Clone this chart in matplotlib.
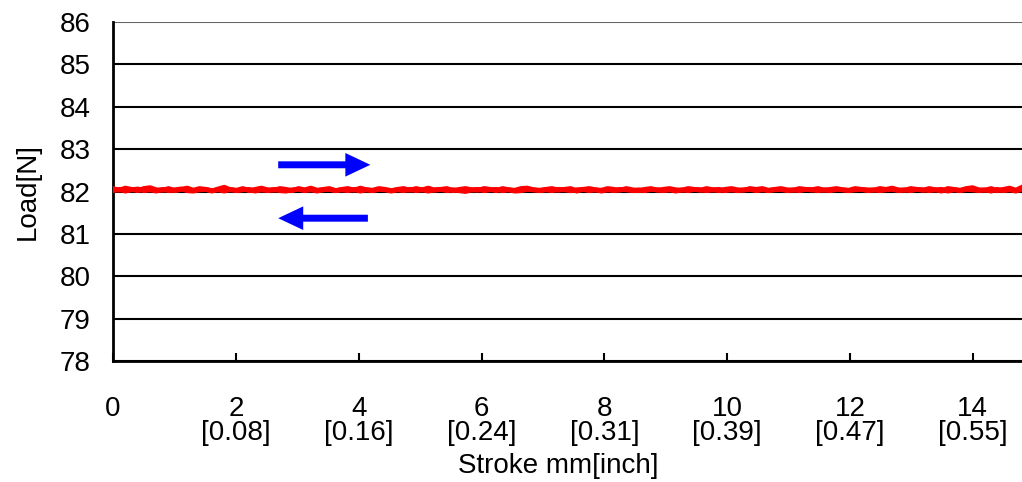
import numpy as np
import matplotlib.pyplot as plt

plt.rcParams['font.family'] = ['Liberation Sans', 'DejaVu Sans']

# Load readings along the stroke (forward and return)
load_fwd = [
    82.07, 82.03, 82.08, 82.05, 82.02, 82.07, 82.09, 82.04, 82.03, 82.07,
    82.02, 82.05, 82.08, 82.03, 82.07, 82.05, 82.01, 82.06, 82.10, 82.04,
    82.03, 82.07, 82.02, 82.05, 82.08, 82.04, 82.03, 82.07, 82.05, 82.02,
    82.07, 82.04, 82.08, 82.03, 82.05, 82.07, 82.02, 82.05, 82.07, 82.03,
    82.08, 82.04, 82.03, 82.07, 82.05, 82.02, 82.05, 82.07, 82.03, 82.07,
    82.04, 82.08, 82.03, 82.05, 82.07, 82.02, 82.05, 82.07, 82.04, 82.03,
    82.07, 82.05, 82.02, 82.07, 82.04, 82.03, 82.07, 82.08, 82.04, 82.03,
    82.05, 82.07, 82.03, 82.05, 82.07, 82.01, 82.05, 82.07, 82.04, 82.03,
    82.07, 82.05, 82.03, 82.07, 82.04, 82.02, 82.05, 82.07, 82.03, 82.05,
    82.07, 82.04, 82.03, 82.07, 82.05, 82.03, 82.07, 82.04, 82.02, 82.05,
    82.07, 82.04, 82.03, 82.07, 82.05, 82.07, 82.03, 82.05, 82.07, 82.04,
    82.03, 82.07, 82.05, 82.04, 82.07, 82.03, 82.05, 82.07, 82.04, 82.03,
    82.07, 82.05, 82.04, 82.03, 82.07, 82.05, 82.08, 82.04, 82.03, 82.07,
    82.05, 82.03, 82.07, 82.04, 82.01, 82.07, 82.05, 82.03, 82.07, 82.09,
    82.04, 82.03, 82.07, 82.02, 82.05, 82.08, 82.03, 82.10,
]
load_ret = [
    82.02, 82.05, 82.01, 82.04, 82.06, 82.02, 82.04, 82.01, 82.05, 82.02,
    82.04, 82.06, 82.02, 82.01, 82.04, 82.05, 82.02, 82.04, 82.01, 82.05,
    82.02, 82.04, 82.05, 82.01, 82.04, 82.02, 82.05, 82.02, 82.01, 82.04,
    82.05, 82.02, 82.04, 82.01, 82.04, 82.05, 82.02, 82.04, 82.02, 82.05,
    82.01, 82.04, 82.02, 82.05, 82.04, 82.01, 82.04, 82.02, 82.05, 82.02,
    82.04, 82.01, 82.04, 82.05, 82.02, 82.04, 82.02, 82.00, 82.04, 82.05,
    82.02, 82.04, 82.05, 82.02, 82.04, 82.01, 82.02, 82.05, 82.04, 82.02,
    82.04, 82.02, 82.05, 82.04, 82.02, 82.04, 82.05, 82.02, 82.04, 82.01,
    82.04, 82.02, 82.05, 82.04, 82.02, 82.04, 82.02, 82.05, 82.04, 82.02,
    82.04, 82.01, 82.04, 82.02, 82.05, 82.04, 82.02, 82.04, 82.05, 82.02,
    82.04, 82.02, 82.04, 82.05, 82.02, 82.04, 82.02, 82.04, 82.05, 82.02,
    82.04, 82.02, 82.05, 82.04, 82.02, 82.04, 82.02, 82.05, 82.04, 82.02,
    82.04, 82.05, 82.02, 82.04, 82.02, 82.04, 82.05, 82.02, 82.04, 82.02,
    82.05, 82.04, 82.02, 82.04, 82.05, 82.01, 82.04, 82.02, 82.05, 82.04,
    82.02, 82.04, 82.01, 82.05, 82.02, 82.04, 82.01, 82.05,
]
stroke = np.linspace(0, 14.8, len(load_fwd))

x_ticks = [0, 2, 4, 6, 8, 10, 12, 14]
x_labels = ['0', '2\n[0.08]', '4\n[0.16]', '6\n[0.24]', '8\n[0.31]',
            '10\n[0.39]', '12\n[0.47]', '14\n[0.55]']
y_ticks = [78, 79, 80, 81, 82, 83, 84, 85, 86]

fig = plt.figure(figsize=(10.22, 4.82), dpi=100)
ax = fig.add_axes([113 / 1022, 1 - 361 / 482, 1 - 113 / 1022, 339 / 482])

ax.plot(stroke, load_ret, color='#ff0000', lw=3.5, zorder=3)
ax.plot(stroke, load_fwd, color='#ff0000', lw=3.5, zorder=3)

# direction arrows
style = 'simple,head_length=1.8,head_width=1.7,tail_width=0.5'
ax.annotate('', xy=(4.19, 82.63), xytext=(2.69, 82.63),
            arrowprops=dict(arrowstyle=style, color='#0000ff', lw=0,
                            shrinkA=0, shrinkB=0))
ax.annotate('', xy=(2.69, 81.37), xytext=(4.15, 81.37),
            arrowprops=dict(arrowstyle=style, color='#0000ff', lw=0,
                            shrinkA=0, shrinkB=0))

ax.set_xlim(0, 14.8)
ax.set_ylim(78, 86)
ax.set_yticks(y_ticks)
ax.set_xticks(x_ticks)
ax.set_xticklabels(x_labels, linespacing=0.92)
ax.yaxis.grid(True, color='black', lw=1.5)
ax.get_ygridlines()[-1].set_color('#666666')
ax.set_axisbelow(True)

for s in ['top', 'right']:
    ax.spines[s].set_visible(False)
ax.spines['left'].set_linewidth(2)
ax.spines['bottom'].set_linewidth(2)

ax.tick_params(axis='x', direction='in', length=6, width=1.5, pad=25, labelsize=20)
ax.tick_params(axis='y', direction='in', length=0, pad=16, labelsize=20)

ax.set_xlabel('Stroke mm[inch]', fontsize=20, labelpad=0)
ax.xaxis.set_label_coords(0.49, -0.272)
ax.set_ylabel('Load[N]', fontsize=20)
ax.yaxis.set_label_coords(-0.08, 0.5)

fig.savefig('out.png', dpi=100)
